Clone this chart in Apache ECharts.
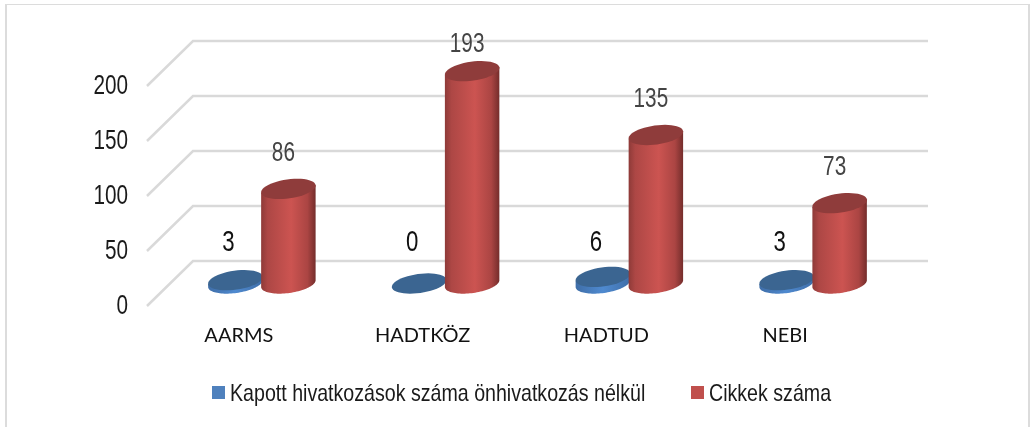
<!DOCTYPE html>
<html>
<head>
<meta charset="utf-8">
<script src="https://cdn.jsdelivr.net/npm/echarts@6/dist/echarts.min.js"></script>
<style>
  html, body { margin: 0; padding: 0; background: #fff; }
  #frame { position: absolute; left: 5px; top: 4px; width: 1021px; height: 423px;
    border: solid #dcdcdc; border-width: 1px 2px 0 2px; }
  #chart { position: absolute; left: 0; top: 0; width: 1030px; height: 427px; }
</style>
</head>
<body>
<div id="frame"></div>
<div id="chart"></div>
<script>
const categories = ["AARMS", "HADTKÖZ", "HADTUD", "NEBI"];
const kapottValues = [3, 0, 6, 3];
const cikkekValues = [86, 193, 135, 73];
const yTicks = [0, 50, 100, 150, 200];

const kapottName = "Kapott hivatkozások száma önhivatkozás nélkül";
const cikkekName = "Cikkek száma";

const KAPOTT_COLOR = "#4f81bd";
const CIKKEK_COLOR = "#c0504d";

// fake 3d: back wall sits up-right of the front plane, bars stand half way in
const DEPTH_X = 46;
const DEPTH_Y = 45;
const RX = 27.5;
const RY = 9.5;
const TILT = (8 * Math.PI) / 180;

// the original text is a horizontally squeezed Arial, no narrow font here
const FONT_NUM = '28px "Liberation Sans", sans-serif';
const FONT_NUM_BIG = '30px "Liberation Sans", sans-serif';
const FONT_LEGEND = '24px "Liberation Sans", sans-serif';
const SQUEEZE_NUM = 0.74;
const SQUEEZE_LEGEND = 0.817;

// point on the tilted ellipse, t in radians
function ellipsePoint(cx, cy, t) {
  const ex = RX * Math.cos(t);
  const ey = RY * Math.sin(t);
  return [
    cx + ex * Math.cos(TILT) + ey * Math.sin(TILT),
    cy - ex * Math.sin(TILT) + ey * Math.cos(TILT),
  ];
}

function ellipsePoints(cx, cy, from, to) {
  const pts = [];
  for (let i = 0; i <= 48; i++) {
    pts.push(ellipsePoint(cx, cy, from + ((to - from) * i) / 48));
  }
  return pts;
}

function sideGradient(stops) {
  return new echarts.graphic.LinearGradient(
    0, 0, 1, 0,
    stops.map((c) => ({ offset: c[0], color: c[1] }))
  );
}

function cylinderRenderer(offsetX, look) {
  return function (params, api) {
    const cat = api.value(0);
    const val = api.value(1);
    const top = api.coord([cat, val]);
    const base = api.coord([cat, 0]);
    const cx = base[0] + DEPTH_X / 2 + offsetX;
    const baseY = base[1] - DEPTH_Y / 2;
    const topY = top[1] - DEPTH_Y / 2;

    const children = [];
    if (val > 0) {
      // side: top-left, round the front of the base, up to top-right
      const side = [ellipsePoint(cx, topY, Math.PI)]
        .concat(ellipsePoints(cx, baseY, Math.PI, 0))
        .concat([ellipsePoint(cx, topY, 0)]);
      children.push({
        type: "polygon",
        shape: { points: side },
        style: { fill: sideGradient(look.side) },
      });
    }
    children.push({
      type: "polygon",
      shape: { points: ellipsePoints(cx, topY, 0, Math.PI * 2) },
      style: { fill: look.top },
    });
    children.push({
      type: "text",
      x: cx + look.labelDx,
      // small discs keep their labels on one line, tall bars stop under the top edge
      y: look.labelFromBase ? baseY - 40.5 : Math.max(topY - 36, 44),
      scaleX: SQUEEZE_NUM,
      style: {
        text: String(val),
        fill: look.labelColor,
        font: look.labelFont,
        align: "center",
        verticalAlign: "middle",
      },
    });
    return { type: "group", children: children };
  };
}

// wall line plus its tick label, tick value comes in through the y axis
function renderWall(params, api) {
  const tick = api.value(1);
  const y = api.coord([0, tick])[1];
  const sys = params.coordSys;
  return {
    type: "group",
    children: [
      {
        type: "polyline",
        shape: {
          points: [
            [sys.x, y],
            [sys.x + DEPTH_X, y - DEPTH_Y],
            [sys.x + sys.width + DEPTH_X, y - DEPTH_Y],
          ],
        },
        style: { fill: "none", stroke: "#d9d9d9", lineWidth: 2.5 },
      },
      {
        type: "text",
        x: sys.x - 19,
        y: y,
        scaleX: SQUEEZE_NUM,
        style: {
          text: String(tick),
          fill: "#1a1a1a",
          font: FONT_NUM,
          align: "right",
          verticalAlign: "middle",
        },
      },
    ],
  };
}

function legendEntry(name, color, left) {
  return [
    { type: "rect", left: left, top: 386, shape: { width: 13, height: 13 }, style: { fill: color } },
    {
      type: "text",
      x: left + 18,
      y: 394,
      scaleX: SQUEEZE_LEGEND,
      style: { text: name, fill: "#1a1a1a", font: FONT_LEGEND, align: "left", verticalAlign: "middle" },
    },
  ];
}

const chartInstance = echarts.init(document.getElementById("chart"));

const option = {
  animation: false,
  backgroundColor: "transparent",
  grid: { left: 147, top: 86, width: 735, height: 220 },
  graphic: legendEntry(kapottName, KAPOTT_COLOR, 212).concat(
    legendEntry(cikkekName, CIKKEK_COLOR, 691)
  ),
  xAxis: {
    type: "category",
    data: categories.map((c) =>
      c === "NEBI" ? { value: c, textStyle: { padding: [0, 10, 0, 0] } } : c
    ),
    axisLine: { show: false },
    axisTick: { show: false },
    axisLabel: {
      margin: 20,
      fontFamily: "Lato, sans-serif",
      fontSize: 20,
      color: "#111",
    },
  },
  yAxis: {
    type: "value",
    min: 0,
    max: 200,
    interval: 50,
    axisLine: { show: false },
    axisTick: { show: false },
    splitLine: { show: false },
    axisLabel: { show: false },
  },
  series: [
    {
      name: "walls",
      type: "custom",
      z: 1,
      silent: true,
      clip: false,
      encode: { x: 0, y: 1 },
      data: yTicks.map((t) => [0, t]),
      renderItem: renderWall,
    },
    {
      name: kapottName,
      type: "custom",
      z: 2,
      clip: false,
      itemStyle: { color: KAPOTT_COLOR },
      encode: { x: 0, y: 1 },
      data: kapottValues.map((v, i) => [i, v]),
      renderItem: cylinderRenderer(-26.5, {
        top: "#3b6591",
        side: [[0, "#3f6ea8"], [0.5, "#4f8ad0"], [1, "#3f6ea8"]],
        labelDx: -7,
        labelColor: "#111",
        labelFont: FONT_NUM_BIG,
        labelFromBase: true,
      }),
    },
    {
      name: cikkekName,
      type: "custom",
      z: 3,
      clip: false,
      itemStyle: { color: CIKKEK_COLOR },
      encode: { x: 0, y: 1 },
      data: cikkekValues.map((v, i) => [i, v]),
      renderItem: cylinderRenderer(26.5, {
        top: "#8f3c3b",
        side: [
          [0, "#8e3a38"],
          [0.12, "#ad4745"],
          [0.55, "#cc5451"],
          [0.85, "#ab4543"],
          [1, "#742d2b"],
        ],
        labelDx: -5,
        labelColor: "#444",
        labelFont: FONT_NUM,
        labelFromBase: false,
      }),
    },
  ],
};

chartInstance.setOption(option);
</script>
</body>
</html>
